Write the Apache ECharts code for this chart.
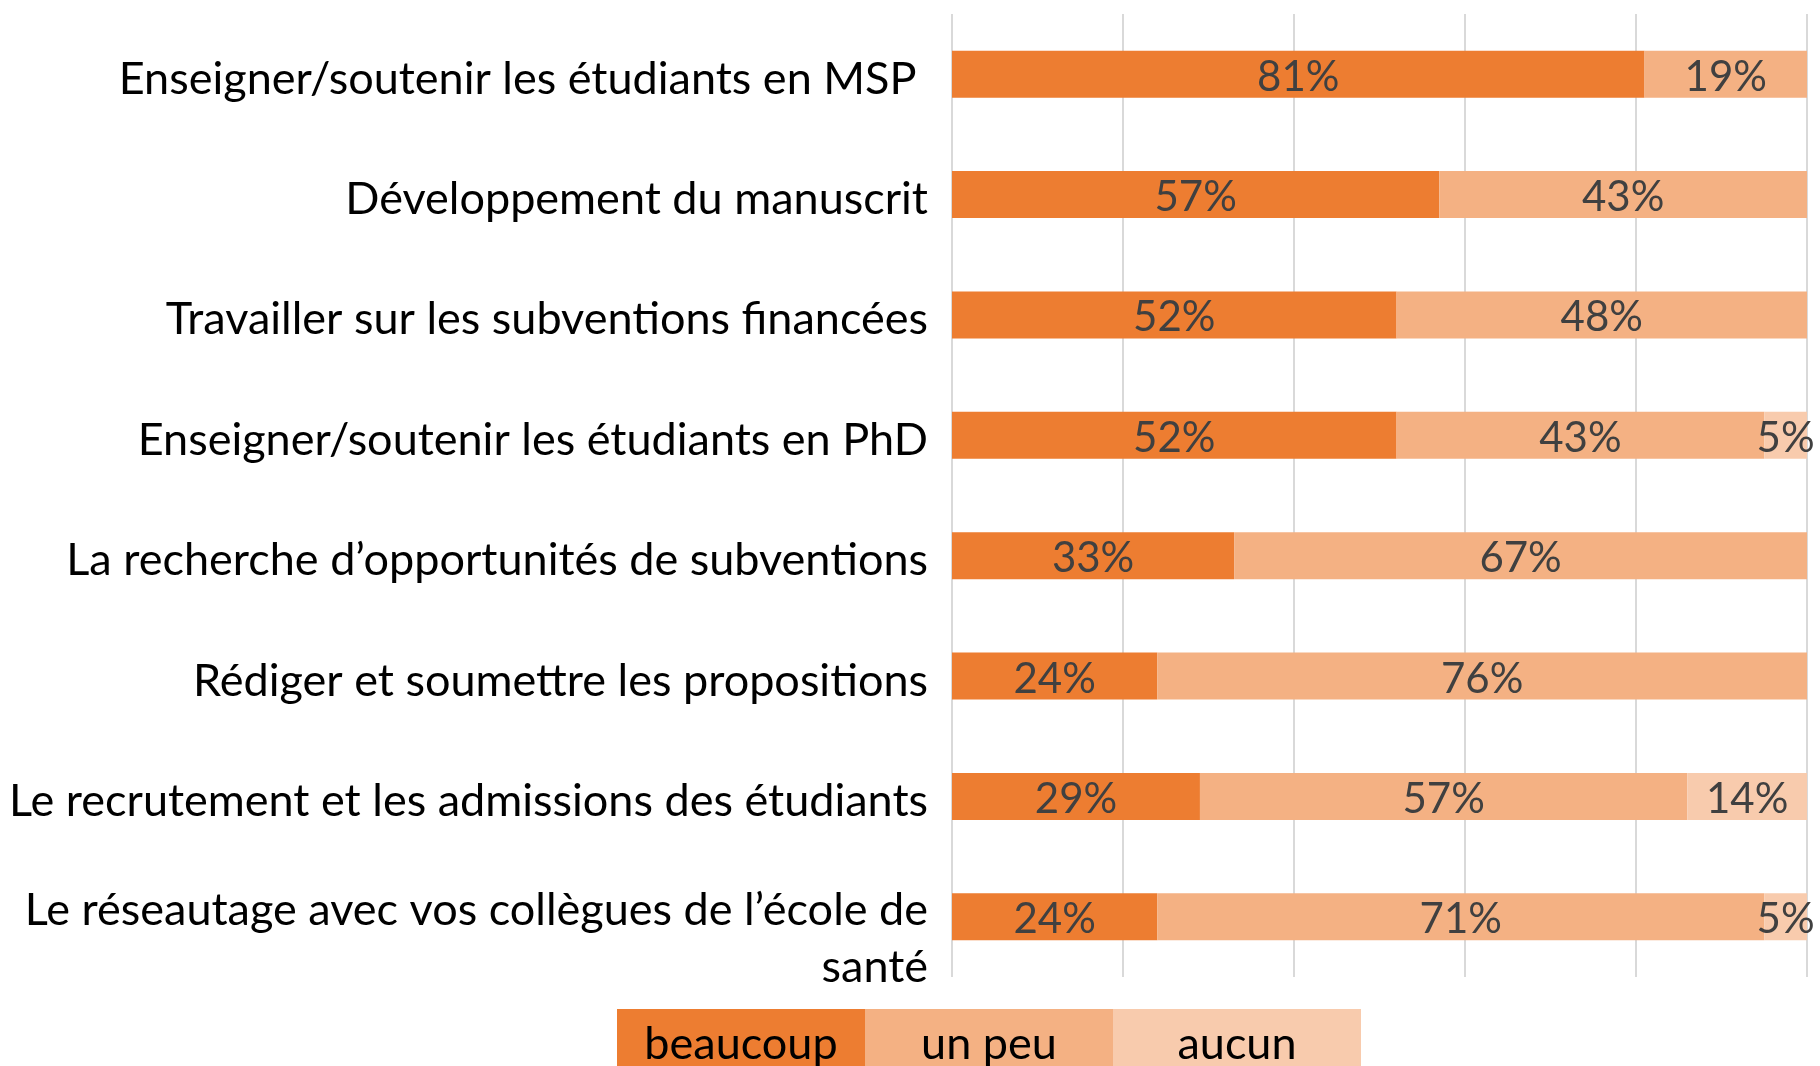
<!DOCTYPE html>
<html>
<head>
<meta charset="utf-8">
<title>Stacked bar</title>
<script src="https://cdn.jsdelivr.net/npm/echarts@6/dist/echarts.min.js"></script>
<style>
  html, body { margin: 0; padding: 0; background: #fff; }
  #chart { width: 1820px; height: 1066px; }
</style>
</head>
<body>
<div id="chart"></div>
<script>
// categories, top to bottom
const categories = [
  'Enseigner/soutenir les étudiants en MSP ',
  'Développement du manuscrit',
  'Travailler sur les subventions financées',
  'Enseigner/soutenir les étudiants en PhD',
  'La recherche d’opportunités de subventions',
  'Rédiger et soumettre les propositions',
  'Le recrutement et les admissions des étudiants',
  'Le réseautage avec vos collègues de l’école de\nsanté'
]
// valeurs en %
const beaucoup = [81, 57, 52, 52, 33, 24, 29, 24]
const unPeu = [19, 43, 48, 43, 67, 76, 57, 71]
const aucun = [0, 0, 0, 5, 0, 0, 14, 5]
const seriesNames = ['beaucoup', 'un peu', 'aucun']
const colors = ['#ED7D31', '#F4B183', '#F8CBAD']
const tickValues = [0, 20, 40, 60, 80, 100]

const font = 'Lato, "Open Sans", sans-serif'
const chart = echarts.init(document.getElementById('chart'))

// build series from the arrays
const seriesData = [beaucoup, unPeu, aucun]
const series = seriesNames.map((name, i) => {
  return {
    name: name,
    type: 'bar',
    stack: 'total',
    barWidth: '39%',
    data: seriesData[i],
    itemStyle: { color: colors[i] },
    label: {
      show: true,
      position: 'inside',
      offset: [0, 3],
      color: '#404040',
      fontFamily: font,
      fontSize: 42,
      formatter: (p) => p.value ? p.value + '%' : ''
    }
  }
})

// legend boxes: one rich style per series
const legendRich = {}
seriesNames.forEach((n, i) => {
  legendRich['b' + i] = {
    width: 248,
    height: 70,
    lineHeight: 70,
    padding: [0, 0, 12, 0],
    align: 'center',
    backgroundColor: colors[i],
    color: '#000',
    fontFamily: font,
    fontSize: 45
  }
})

const option = {
  animation: false,
  grid: {
    left: 952,
    right: 13,
    top: 14,
    bottom: 89
  },
  xAxis: {
    type: 'value',
    min: tickValues[0],
    max: tickValues[tickValues.length - 1],
    interval: tickValues[1] - tickValues[0],
    axisLabel: { show: false },
    axisLine: { show: false },
    axisTick: { show: false },
    splitLine: { lineStyle: { color: '#D9D9D9', width: 2 } }
  },
  yAxis: {
    type: 'category',
    inverse: true,
    data: categories,
    axisLine: { show: false },
    axisTick: { show: false },
    axisLabel: {
      margin: 24,
      color: '#000',
      fontFamily: font,
      fontSize: 45,
      lineHeight: 57,
      align: 'right',
      // small spacer on top so the (first) line sits on the bar like Excel does
      formatter: (v) => v.indexOf('\n') >= 0 ? '{gap| }\n' + v : '{sm| }\n' + v,
      rich: {
        gap: { fontSize: 10, height: 45, lineHeight: 45 },
        sm: { fontSize: 8, height: 10, lineHeight: 10 }
      }
    }
  },
  legend: {
    left: 612,
    top: 1009,
    padding: 0,
    itemWidth: 0,
    itemHeight: 0,
    itemGap: -5,
    selectedMode: false,
    formatter: (name) => '{b' + seriesNames.indexOf(name) + '|' + name + '}',
    textStyle: { rich: legendRich },
    data: seriesNames
  },
  series: series
}
chart.setOption(option)
</script>
</body>
</html>
